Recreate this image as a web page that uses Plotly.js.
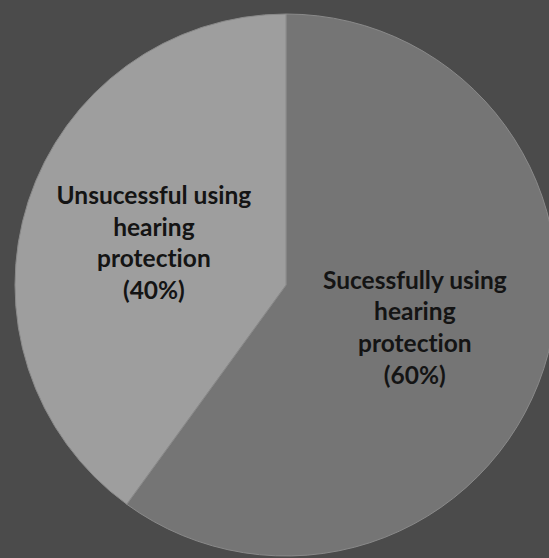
<!DOCTYPE html>
<html>
<head>
<meta charset="utf-8">
<script src="https://cdn.plot.ly/plotly-3.0.1.min.js"></script>
<style>
html,body{margin:0;padding:0;background:#4b4b4b;overflow:hidden;}
#chart{width:560px;height:558px;}
text{font-variant-ligatures:none;font-feature-settings:"liga" 0,"clig" 0;}
</style>
</head>
<body>
<div id="chart"></div>
<script>
const labels = ["Sucessfully using hearing protection", "Unsucessful using hearing protection"];
const labelLines = ["Sucessfully using<br>hearing<br>protection", "Unsucessful using<br>hearing<br>protection"];
const values = [60, 40];
const colors = ["#757575", "#9e9e9e"];

const W = 560, H = 558;
const cx = 286, cy = 285, r = 271;

const trace = {
  type: "pie",
  labels: labels,
  values: values,
  text: labelLines.map((t, i) => t + "<br>(" + values[i] + "%)"),
  textinfo: "text",
  textposition: "inside",
  insidetextorientation: "horizontal",
  sort: false,
  direction: "clockwise",
  rotation: 0,
  hoverinfo: "none",
  marker: {colors: colors, line: {color: "#8a8a8a", width: 1}},
  textfont: {family: "Lato, 'Open Sans', sans-serif", size: 24.5, color: "#141414", weight: "bold"},
  domain: {x: [(cx - r) / W, (cx + r) / W], y: [(H - cy - r) / H, (H - cy + r) / H]},
  showlegend: false
};

Plotly.newPlot("chart", [trace], {
  width: W, height: H,
  margin: {l: 0, r: 0, t: 0, b: 0},
  paper_bgcolor: "#4b4b4b",
  showlegend: false
}, {displayModeBar: false, staticPlot: true});
</script>
</body>
</html>
